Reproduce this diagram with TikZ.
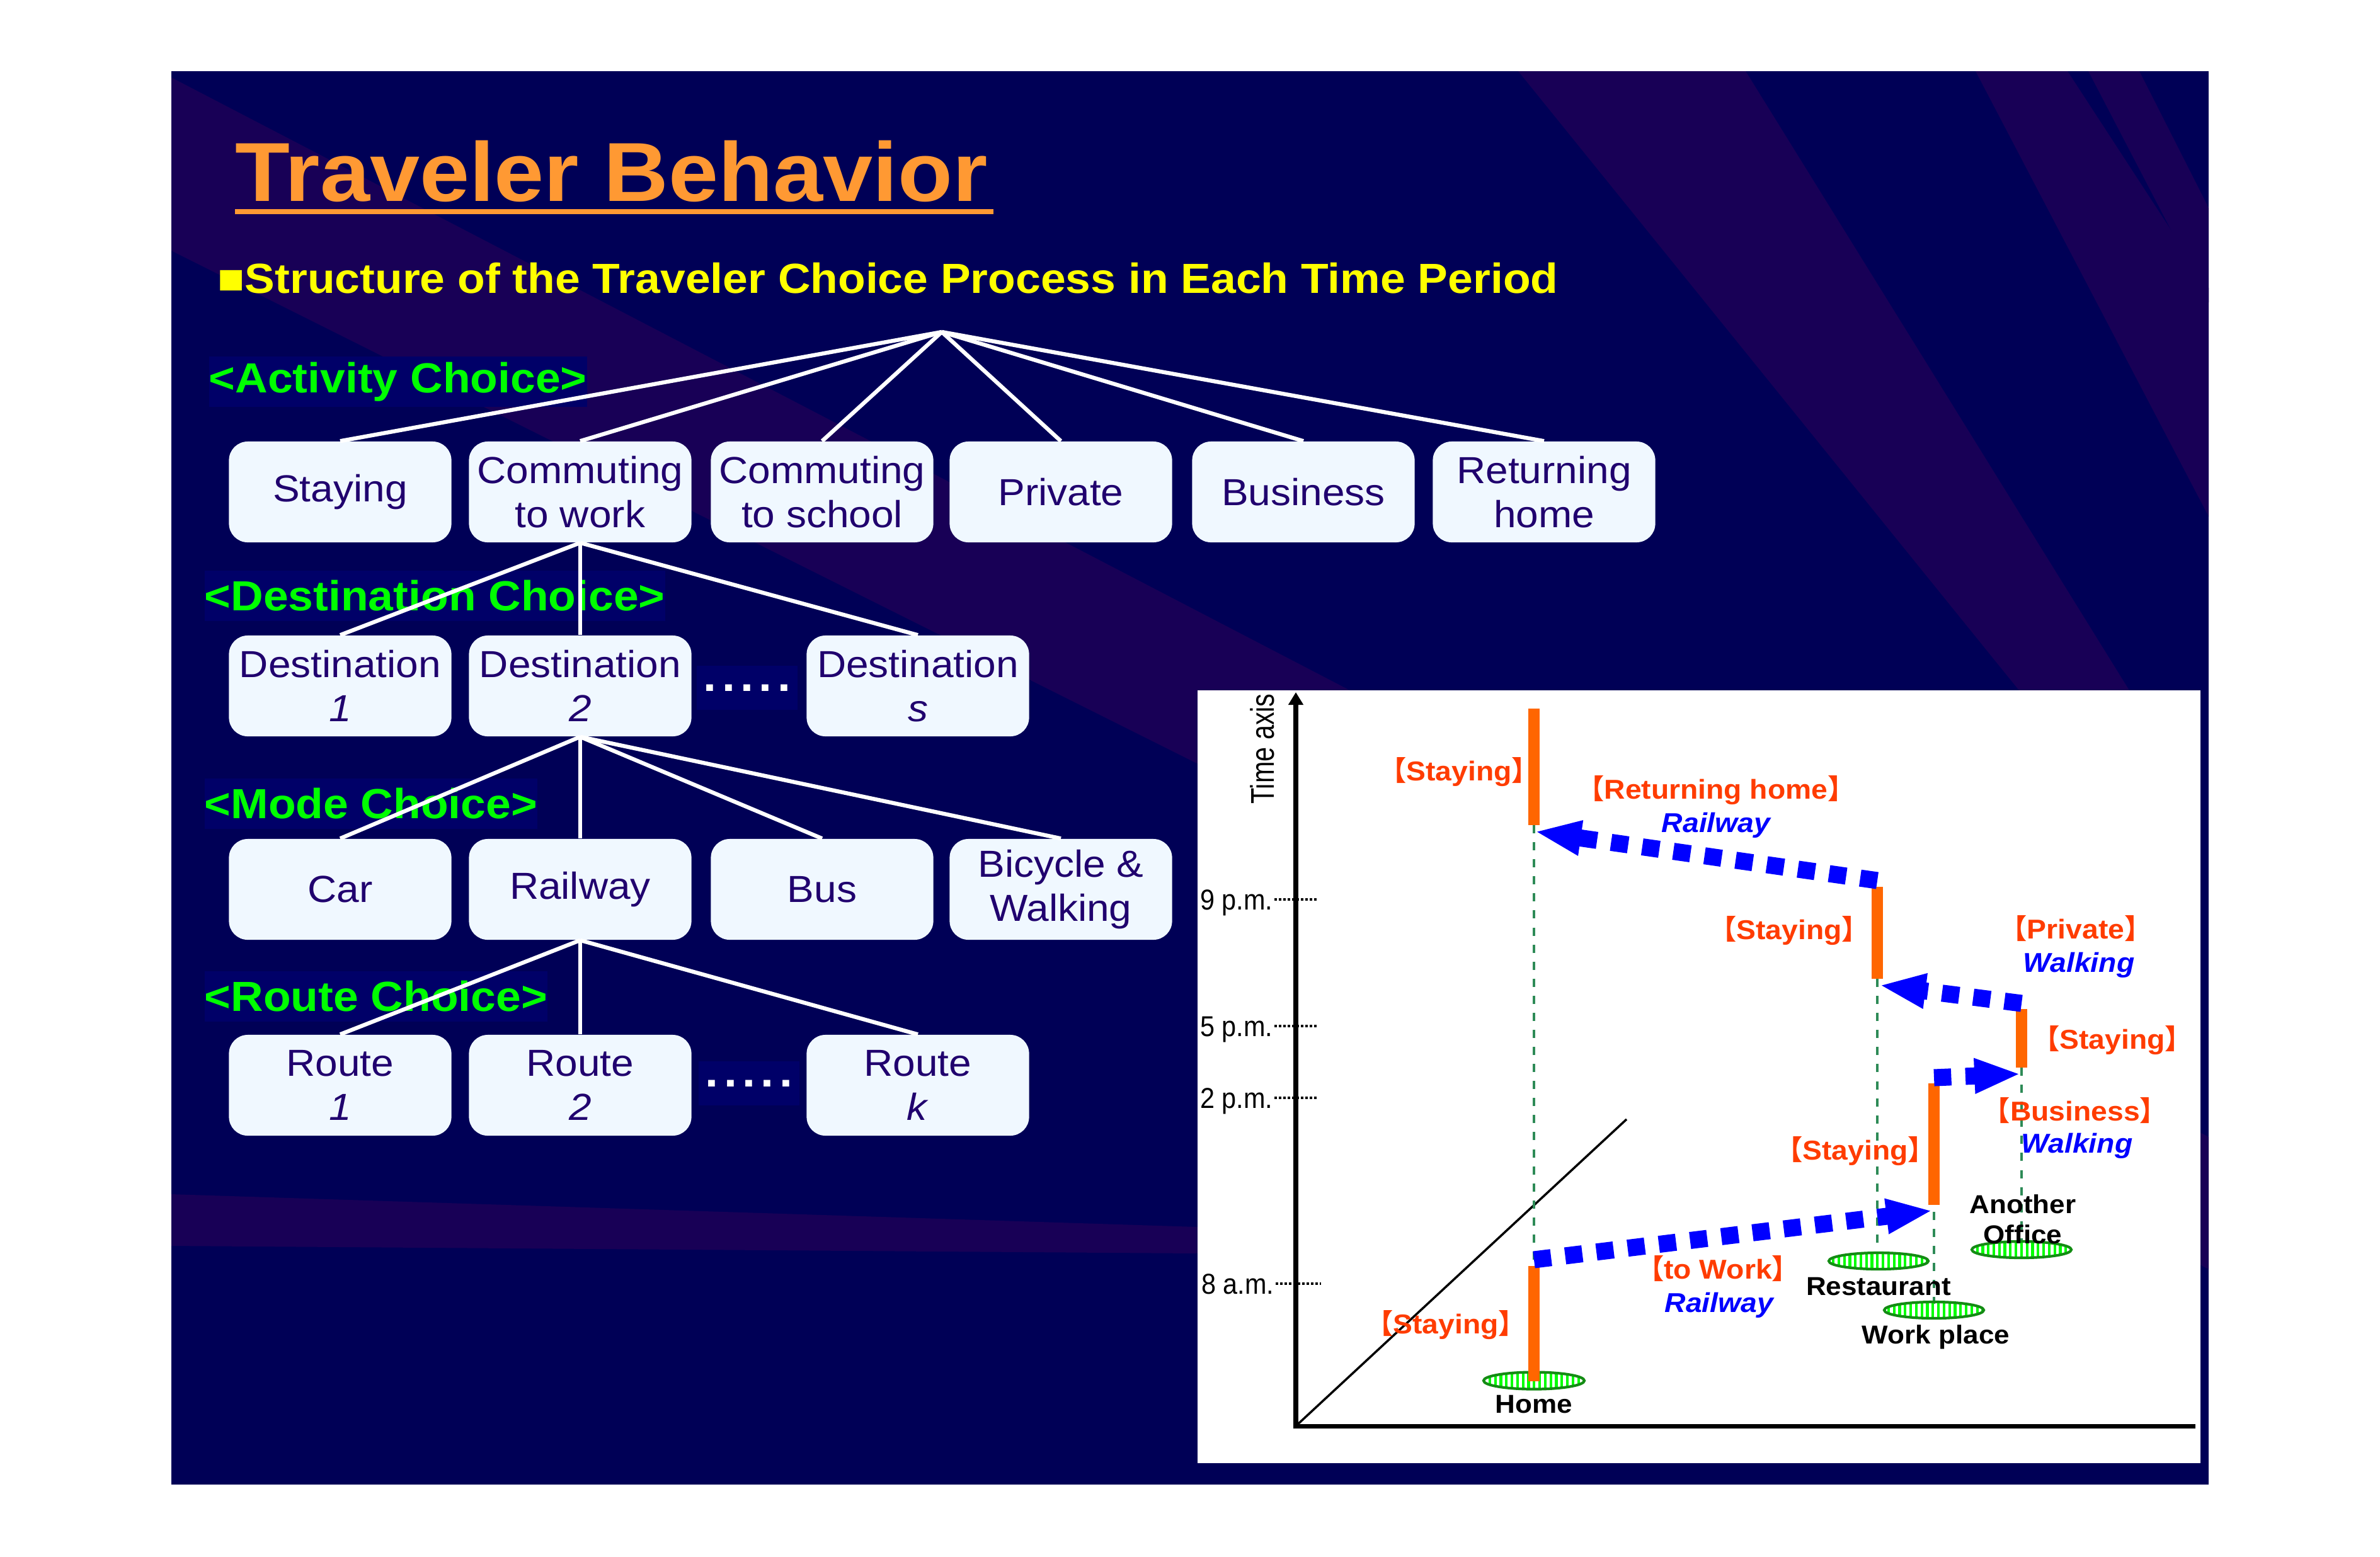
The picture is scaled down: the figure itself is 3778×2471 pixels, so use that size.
\documentclass[tikz,border=0pt]{standalone}
\usepackage{fontspec}
\usepackage{graphicx}
\setmainfont{Liberation Sans}[FakeStretch=1.07]
\newfontfamily\cjk{Noto Sans CJK JP}
\usetikzlibrary{arrows.meta,patterns.meta}
\definecolor{bgnavy}{RGB}{0,0,86}
\definecolor{bandpurple}{RGB}{24,0,86}
\definecolor{labelbg}{RGB}{0,0,104}
\definecolor{boxfill}{RGB}{240,248,255}
\definecolor{boxtext}{RGB}{32,0,110}
\definecolor{titleorange}{RGB}{255,153,51}
\definecolor{subyellow}{RGB}{255,255,0}
\definecolor{catgreen}{RGB}{0,255,0}
\definecolor{barorange}{RGB}{255,102,0}
\definecolor{labred}{RGB}{255,60,0}
\definecolor{arrowblue}{RGB}{0,0,255}
\definecolor{dashgreen}{RGB}{46,139,87}
\definecolor{ellgreen}{RGB}{20,140,20}
\definecolor{hatchgreen}{RGB}{0,255,0}
\newcommand\lbk{{\cjk 【}}
\newcommand\rbk{{\cjk 】}}
\begin{document}
\begin{tikzpicture}[x=0.01cm,y=-0.01cm,
  box/.style={fill=boxfill, rounded corners=8.5pt, minimum width=3.53cm, minimum height=1.6cm, inner sep=0pt, text=boxtext, align=center, font=\fontsize{17}{19.9}\selectfont},
  cat/.style={fill=labelbg, anchor=west, inner sep=0pt, minimum height=0.8cm, text=catgreen, font=\fontsize{19}{22}\selectfont\bfseries},
  tree/.style={white, line width=1.8pt},
  dotsbox/.style={fill=labelbg, minimum width=1.6cm, minimum height=0.7cm, inner sep=0pt, text=white, font=\fontsize{20}{22}\selectfont\bfseries},
  bar/.style={barorange, line width=5.1pt},
  guide/.style={dashgreen, line width=0.9pt, dash pattern=on 3.7pt off 4pt},
  move/.style={arrowblue, line width=7.7pt, dash pattern=on 7.8pt off 6.4pt, -{Triangle[length=21pt,width=14.5pt]}},
  place/.style={draw=ellgreen, line width=1.2pt, pattern={Lines[angle=90,distance=2.5pt,line width=1.2pt]}, pattern color=hatchgreen},
  redlab/.style={anchor=base, inner sep=0pt, text=labred, font=\fontsize{12.3}{14}\selectfont\bfseries},
  bluelab/.style={anchor=base, inner sep=0pt, text=arrowblue, font=\fontsize{12.3}{14}\selectfont\bfseries\itshape},
  placelab/.style={anchor=base, inner sep=0pt, text=black, font=\fontsize{11.7}{13.7}\selectfont\bfseries},
  ticklab/.style={anchor=base east, inner sep=0pt, text=black, font=\fontsize{11}{13}\selectfont},
  tick/.style={black, line width=0.9pt, dash pattern=on 1.1pt off 0.9pt}
]
\useasboundingbox (0,0) rectangle (3778,2471);
\fill[white] (0,0) rectangle (3778,2471);
% slide background
\fill[bgnavy] (272,113) rectangle (3506,2357);
\begin{scope}
  \clip (272,113) rectangle (3506,2357);
  \fill[bandpurple] (272,123) -- (3506,1805) -- (3506,2015) -- (272,398) -- cycle;
  \fill[bandpurple] (272,1896) -- (1901,1948) -- (1901,1990) -- (272,1978) -- cycle;
  \fill[bandpurple] (2410,113) -- (2771,113) -- (3380,1096) -- (3205,1096) -- cycle;
  \fill[bandpurple] (3136,113) -- (3282,113) -- (3506,457) -- (3506,820) -- cycle;
  \fill[bandpurple] (3315,113) -- (3396,113) -- (3506,330) -- (3506,480) -- cycle;
\end{scope}
% title
\node[anchor=base west, inner sep=0pt, text=titleorange, font=\fontsize{37.8}{44}\selectfont\bfseries] (title) at (373,319) {Traveler Behavior};
\fill[titleorange] (373,332) rectangle (1577,340);
\node[anchor=base west, inner sep=0pt, text=subyellow, font=\fontsize{19}{22}\selectfont\bfseries] (subtitle) at (345,465) {■Structure of the Traveler Choice Process in Each Time Period};
% category labels
\node[cat] (catA) at (331,606) {<Activity Choice>};
\node[cat] (catD) at (324,946) {<Destination Choice>};
\node[cat] (catM) at (324,1276) {<Mode Choice>};
\node[cat] (catR) at (324,1582) {<Route Choice>};
% boxes
\node[box] (stay) at (540,781) {Staying};
\node[box] (cwork) at (921,781) {Commuting\\to work};
\node[box] (cschool) at (1305,781) {Commuting\\to school};
\node[box] (priv) at (1684,781) {Private};
\node[box] (busi) at (2069,781) {Business};
\node[box] (rhome) at (2451,781) {Returning\\home};
\node[box] (d1) at (540,1089) {Destination\\\textit{1}};
\node[box] (d2) at (921,1089) {Destination\\\textit{2}};
\node[box] (ds) at (1457,1089) {Destination\\\textit{s}};
\node[box] (car) at (540,1412) {Car};
\node[box] (rail) at (921,1412) {Railway};
\node[box] (bus) at (1305,1412) {Bus};
\node[box] (bike) at (1684,1412) {Bicycle \&\\Walking};
\node[box] (r1) at (540,1723) {Route\\\textit{1}};
\node[box] (r2) at (921,1723) {Route\\\textit{2}};
\node[box] (rk) at (1457,1723) {Route\\\textit{k}};
\node[dotsbox] (dotsD) at (1186,1092) {\makebox[1.38cm]{.\hfill.\hfill.\hfill.\hfill.}};
\node[dotsbox] (dotsR) at (1189,1720) {\makebox[1.38cm]{.\hfill.\hfill.\hfill.\hfill.}};
% tree connectors
\coordinate (root) at (1495,527);
\foreach \b in {stay,cwork,cschool,priv,busi,rhome} \draw[tree] (root) -- (\b.north);
\foreach \b in {d1,d2,ds} \draw[tree] (cwork.south) -- (\b.north);
\foreach \b in {car,rail,bus,bike} \draw[tree] (d2.south) -- (\b.north);
\foreach \b in {r1,r2,rk} \draw[tree] (rail.south) -- (\b.north);
% chart panel
\fill[white] (1901,1096) rectangle (3493,2323);
\draw[tick] (2023,1428) -- (2090,1428);
\draw[tick] (2023,1629) -- (2090,1629);
\draw[tick] (2023,1743) -- (2090,1743);
\draw[tick] (2025,2038) -- (2097,2038);
\node[ticklab] (t9) at (2021,1444) {\scalebox{1}[1.18]{9 p.m.}};
\node[ticklab] (t5) at (2021,1645) {\scalebox{1}[1.18]{5 p.m.}};
\node[ticklab] (t2) at (2021,1759) {\scalebox{1}[1.18]{2 p.m.}};
\node[ticklab] (t8) at (2023,2054) {\scalebox{1}[1.18]{8 a.m.}};
\node[anchor=base, inner sep=0pt, rotate=90, font=\fontsize{11}{13}\selectfont] (taxis) at (2022,1189) {\scalebox{1}[1.35]{Time axis}};
\coordinate (O) at (2057,2264);
\coordinate (ytop) at (2057,1099);
\coordinate (xend) at (3485,2264);
\coordinate (diagend) at (2582,1777);
\draw[line width=2.3pt, -{Triangle[length=5.7pt,width=6.5pt]}] ([yshift=-0.04cm]O) -- (ytop);
\draw[line width=2pt] (O) -- (xend);
\draw[line width=1pt] (O) -- (diagend);
% guides
\draw[guide] (2435,1310) -- (2435,2010);
\draw[guide] (2980,1554) -- (2980,1995);
\draw[guide] (3070,1924) -- (3070,2070);
\draw[guide] (3209,1695) -- (3209,1975);
% places
\draw[place] (2435,2192) ellipse [x radius=80, y radius=13.5];
\draw[place] (2982,2002) ellipse [x radius=79, y radius=13];
\draw[place] (3070,2080) ellipse [x radius=79, y radius=13];
\draw[place] (3209,1984) ellipse [x radius=79, y radius=13];
% staying bars
\draw[bar] (2435,1125) -- (2435,1310);
\draw[bar] (2435,2010) -- (2435,2193);
\draw[bar] (2980,1408) -- (2980,1554);
\draw[bar] (3070,1720) -- (3070,1913);
\draw[bar] (3209,1602) -- (3209,1695);
% trips
\coordinate (rhS) at (2980,1398); \coordinate (rhE) at (2436,1320);
\coordinate (pvS) at (3209,1593); \coordinate (pvE) at (2983,1564);
\coordinate (bsS) at (3070,1711); \coordinate (bsE) at (3208,1705);
\coordinate (twS) at (2435,2000); \coordinate (twE) at (3068,1922);
\draw[move] (rhS) -- (rhE);
\draw[move] (pvS) -- (pvE);
\draw[move] (bsS) -- (bsE);
\draw[move] (twS) -- (twE);
% labels
\node[redlab] (s1) at (2316,1239) {\lbk Staying\rbk};
\node[redlab] (lrh) at (2724,1268) {\lbk Returning home\rbk};
\node[bluelab] (mrh) at (2724,1321) {Railway};
\node[redlab] (s2) at (2840,1491) {\lbk Staying\rbk};
\node[redlab] (lpv) at (3295,1490) {\lbk Private\rbk};
\node[bluelab] (mpv) at (3300,1543) {Walking};
\node[redlab] (s3) at (3353,1665) {\lbk Staying\rbk};
\node[redlab] (lbs) at (3294,1779) {\lbk Business\rbk};
\node[bluelab] (mbs) at (3297,1830) {Walking};
\node[redlab] (s4) at (2945,1841) {\lbk Staying\rbk};
\node[redlab] (ltw) at (2727,2030) {\lbk to Work\rbk};
\node[bluelab] (mtw) at (2729,2083) {Railway};
\node[redlab] (s5) at (2295,2117) {\lbk Staying\rbk};
\node[placelab] (pao1) at (3211,1926) {Another};
\node[placelab] (pao2) at (3211,1974) {Office};
\node[placelab] (prest) at (2982,2056) {Restaurant};
\node[placelab] (pwork) at (3073,2133) {Work place};
\node[placelab] (phome) at (2435,2243) {Home};
\end{tikzpicture}
\end{document}
